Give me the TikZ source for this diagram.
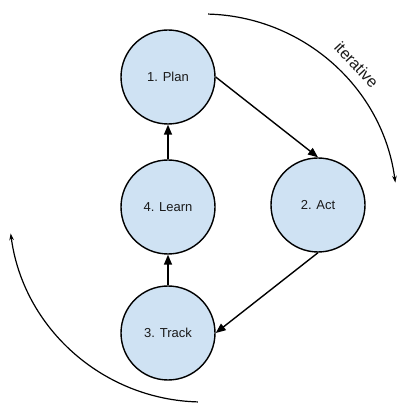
\documentclass[tikz,border=0pt]{standalone}
\usepackage{fontspec}
\setmainfont{Liberation Sans}
\usetikzlibrary{arrows.meta,positioning,calc}
\definecolor{stepblue}{HTML}{CFE2F3}
\definecolor{inkgray}{HTML}{1A1A1A}

\begin{document}
\begin{tikzpicture}[x=1pt,y=1pt,
  stage/.style={circle,draw=black,line width=1.4pt,fill=stepblue,minimum size=94pt,inner sep=0pt,font=\fontsize{13}{15}\selectfont,text=inkgray},
  flow/.style={line width=1.4pt,-{Triangle[length=10pt,width=8pt]}},
  loop/.style={line width=1.2pt,-{Stealth[length=7pt,width=4.5pt]}}]
  \useasboundingbox (0,0) rectangle (407,418);

  % Four stages
  \node[stage] (plan) at (168,341) {1. Plan};
  \node[stage] (act) at (318,213) {2. Act};
  \node[stage] (track) at (168,85) {3. Track};
  \node[stage] (learn) at (168,211) {4. Learn};

  % Connectors between stages
  \draw[flow] (plan.east) -- (act.north);
  \draw[flow] (act.south) -- (track.east);
  \draw[flow] (track.north) -- (learn.south);
  \draw[flow] (learn.north) -- (plan.south);

  % Outer arcs showing the cycle
  \coordinate (hub) at (203,210);
  \draw[loop] ([shift={(88.5:194)}]hub) arc[start angle=88.5,end angle=7.5,radius=194];
  \draw[loop] ([shift={(268.5:194)}]hub) arc[start angle=268.5,end angle=187.5,radius=194];
  \node[font=\fontsize{16}{18}\selectfont,text=inkgray,rotate=-47] (iter) at ([shift={(43:210)}]hub) {iterative};
\end{tikzpicture}
\end{document}
